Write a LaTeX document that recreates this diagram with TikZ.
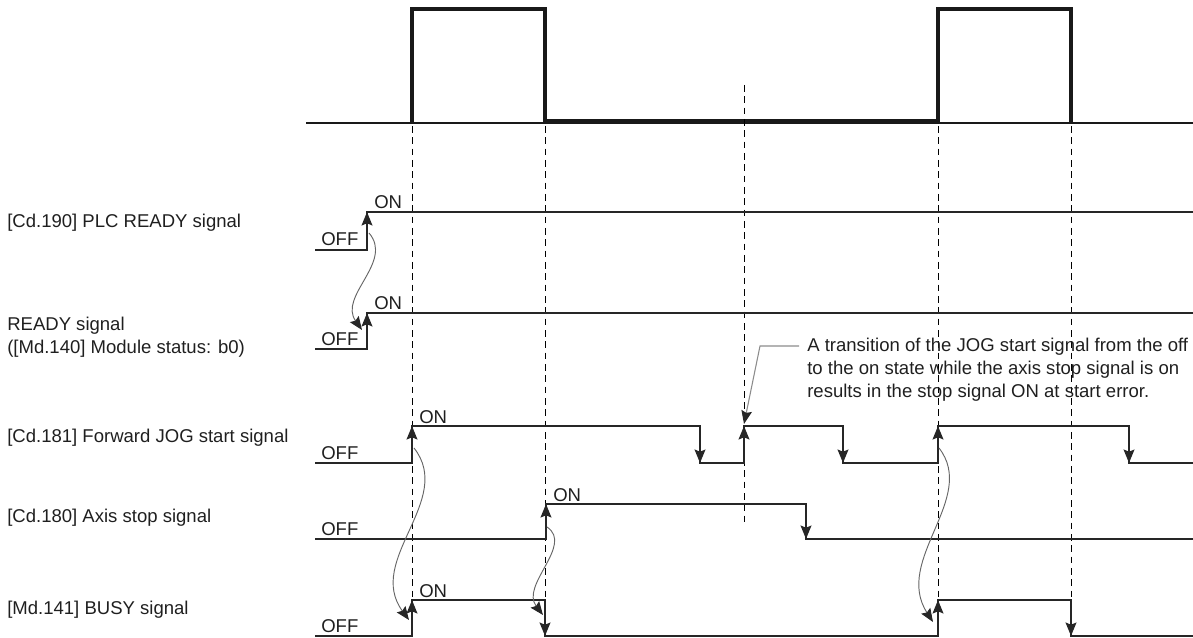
\documentclass[tikz,border=0pt]{standalone}
\usepackage{fontspec}
\setmainfont{Liberation Sans}
\usetikzlibrary{arrows.meta}
\begin{document}
\begin{tikzpicture}[
    x=0.75pt,
    y=-0.75pt,
    line join=miter,
    every node/.style={
        font=\fontsize{13.9}{17}\selectfont,
        text=black!88,
        inner sep=0pt
    },
    signal/.style={
        line width=1.6pt,
        draw=black!85
    },
    rise/.style={
        signal,
        -{Stealth[length=10pt,width=8pt,inset=1.5pt]}
    },
    pulse/.style={
        line width=3pt,
        draw=black!90
    },
    base/.style={
        line width=1pt,
        draw=black!90
    },
    guide/.style={
        line width=0.75pt,
        dash pattern=on 5pt off 3.5pt
    },
    link/.style={
        line width=0.7pt,
        draw=black!60,
        -{Stealth[length=10pt,width=8pt,inset=1.5pt,color=black!85]}
    },
    leader/.style={
        line width=0.8pt,
        draw=black!45,
        -{Stealth[length=10pt,width=8pt,inset=1.5pt,color=black!85]}
    }
]

\useasboundingbox (0,0) rectangle (1193,638);

% -------------------------------------------------
% Levels of the signals (high / low)
% -------------------------------------------------

\def\plcH{212}  \def\plcL{250}   % PLC READY
\def\rdyH{313}  \def\rdyL{349}   % READY
\def\jogH{426}  \def\jogL{463}   % forward JOG start
\def\stpH{504}  \def\stpL{539}   % axis stop
\def\bsyH{600}  \def\bsyL{636}   % BUSY

\def\xs{315}    % left end of the signal lines
\def\xe{1193}   % right end of the signal lines

% -------------------------------------------------
% Names of the signals
% -------------------------------------------------

\node[anchor=base west] (nplc) at (7,228) {[Cd.190] PLC READY signal};
\node[anchor=base west, align=left] (nrdy) at (7,353)
    {READY signal\\([Md.140] Module status: b0)};
\node[anchor=base west] (njog) at (7,442) {[Cd.181] Forward JOG start signal};
\node[anchor=base west] (nstp) at (7,522) {[Cd.180] Axis stop signal};
\node[anchor=base west] (nbsy) at (7,614) {[Md.141] BUSY signal};

% -------------------------------------------------
% Upper waveform
% -------------------------------------------------

\draw[base] (306,123) -- (\xe,123);

\draw[pulse]
    (412,123) -- (412,9) -- (545,9) -- (545,121.5)
    -- (938,121.5) -- (938,9) -- (1071,9) -- (1071,123);

% -------------------------------------------------
% Dashed timing lines
% -------------------------------------------------

\foreach \x in {412,545,938,1071}
    \draw[guide] (\x,126) -- (\x,\bsyH);

\draw[guide] (744,85) -- (744,522);

% -------------------------------------------------
% Signal lines
% -------------------------------------------------

\draw[signal] (\xs,\plcL) -- (367,\plcL) -- (367,\plcH) -- (\xe,\plcH);
\draw[signal] (\xs,\rdyL) -- (367,\rdyL) -- (367,\rdyH) -- (\xe,\rdyH);

\draw[signal]
    (\xs,\jogL) -- (412,\jogL) -- (412,\jogH) -- (700,\jogH)
    -- (700,\jogL) -- (744,\jogL) -- (744,\jogH) -- (843,\jogH)
    -- (843,\jogL) -- (938,\jogL) -- (938,\jogH) -- (1129,\jogH)
    -- (1129,\jogL) -- (\xe,\jogL);

\draw[signal]
    (\xs,\stpL) -- (546,\stpL) -- (546,\stpH) -- (806,\stpH)
    -- (806,\stpL) -- (\xe,\stpL);

\draw[signal]
    (\xs,\bsyL) -- (412,\bsyL) -- (412,\bsyH) -- (545,\bsyH)
    -- (545,\bsyL) -- (938,\bsyL) -- (938,\bsyH) -- (1071,\bsyH)
    -- (1071,\bsyL) -- (\xe,\bsyL);

% Edges with arrows (x / from / to)
\foreach \x/\a/\b in {
        367/\plcL/\plcH, 367/\rdyL/\rdyH,
        412/\jogL/\jogH, 700/\jogH/\jogL, 744/\jogL/\jogH,
        843/\jogH/\jogL, 938/\jogL/\jogH, 1129/\jogH/\jogL,
        546/\stpL/\stpH, 806/\stpH/\stpL,
        412/\bsyL/\bsyH, 545/\bsyH/\bsyL,
        938/\bsyL/\bsyH, 1071/\bsyH/\bsyL}
    \draw[rise] (\x,\a) -- (\x,\b);

% -------------------------------------------------
% ON / OFF labels
% -------------------------------------------------

\foreach \x/\y/\t in {
        374/209/ON, 321/246/OFF,
        374/310/ON, 321/345/OFF,
        419/423/ON, 321/459/OFF,
        553/501/ON, 321/535/OFF,
        419/597/ON, 321/632/OFF}
    \node[anchor=base west] at (\x,\y) {\t};

% -------------------------------------------------
% Causal links between the edges
% -------------------------------------------------

\coordinate (plcup) at (369,233);
\coordinate (rdyup) at (362,330);
\coordinate (jogup) at (414,448);
\coordinate (bsyup) at (409,620);
\coordinate (stpup) at (547,527);
\coordinate (bsydn) at (543,615);
\coordinate (jogup2) at (939,448);
\coordinate (bsyup2) at (933,622);

\draw[link] (plcup) .. controls (394,262) and (338,296) .. (rdyup);
\draw[link] (jogup) .. controls (455,500) and (365,560) .. (bsyup);
\draw[link] (stpup) .. controls (574,545) and (520,585) .. (bsydn);
\draw[link] (jogup2) .. controls (978,498) and (893,560) .. (bsyup2);

% -------------------------------------------------
% Note on the start error
% -------------------------------------------------

\node[anchor=base west, align=left] (note) at (807,397)
    {A transition of the JOG start signal from the off\\
     to the on state while the axis stop signal is on\\
     results in the stop signal ON at start error.};

\coordinate (notein) at (799,346);
\coordinate (bend) at (760,346);
\coordinate (jogerr) at (744,424);

\draw[leader] (notein) -- (bend) -- (jogerr);

\end{tikzpicture}
\end{document}
